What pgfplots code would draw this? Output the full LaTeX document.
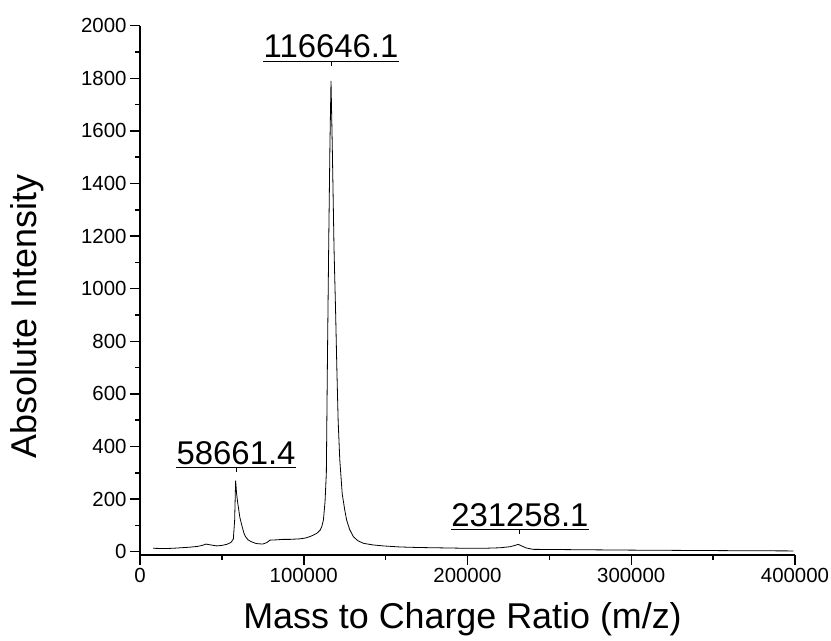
\documentclass[border=0pt]{standalone}
\usepackage{fontspec}
\setmainfont{Liberation Sans}
\usepackage{pgfplots}
\pgfplotsset{compat=1.18}
\begin{document}
\begin{tikzpicture}
\begin{axis}[
  scale only axis,
  width=655bp, height=529.3bp,
  xmin=0, xmax=400000, ymin=-12.5, ymax=2000,
  axis x line*=bottom, axis y line*=left,
  axis line style={line width=1.5bp, -},
  every outer x axis line/.append style={-},
  every outer y axis line/.append style={-},
  xtick={0,100000,200000,300000,400000},
  ytick={0,200,400,600,800,1000,1200,1400,1600,1800,2000},
  minor x tick num=1, minor y tick num=1,
  tick align=outside,
  major tick length=10bp, minor tick length=5bp,
  every tick/.style={line width=1.5bp, black},
  scaled x ticks=false, scaled y ticks=false,
  /pgf/number format/fixed,
  /pgf/number format/1000 sep={},
  /pgf/number format/assume math mode=true,
  tick label style={font=\fontsize{20.5}{24}\selectfont},
  clip=false,
]
\addplot[black, line width=0.8bp] coordinates {
(8000,13) (15000,12) (20000,13) (25000,15) (30000,17) (35000,20) (38000,24)
(40300,29) (43000,26) (46800,22) (50000,24) (53000,28) (55500,35) (57000,48)
(57800,120) (58400,270) (59000,220) (59700,185) (61000,130) (62400,95)
(63500,70) (64500,57) (66000,45) (68000,38) (71000,31) (75000,29) (77500,35)
(79400,44) (83000,45) (87500,47) (92000,47) (97700,49) (101000,52) (104000,58)
(105800,63) (108000,70) (110000,82) (111000,95) (112000,120) (113000,190)
(113800,300) (114500,750) (115300,1200) (116000,1550) (116646,1790)
(117400,1550) (118500,1150) (119500,900) (120200,700) (121000,500)
(122000,350) (123500,220) (125000,160) (126200,120) (128000,85) (130300,57)
(133000,42) (136400,32) (142000,26) (148600,22) (158800,18) (170000,16)
(180000,15) (190000,14) (199500,13) (210000,13) (220000,15) (226000,19)
(229000,24) (231000,28) (233000,22) (236000,14) (240000,9) (260000,8)
(280000,7) (301000,6) (330000,5) (360000,4) (399000,3)
};
\node[anchor=base, inner sep=0pt, font=\fontsize{33}{36}\selectfont] (p1) at (axis cs:116646,1879) {116646.1};
\draw[line width=1bp] ([yshift=-3bp]p1.south west) -- ([yshift=-3bp]p1.south east);
\draw[line width=1bp] ([yshift=-3bp]p1.south) -- ++(0,-8bp);
\node[anchor=base, inner sep=0pt, font=\fontsize{33}{36}\selectfont] (p2) at (axis cs:58661,333) {58661.4};
\draw[line width=1bp] ([yshift=-3bp]p2.south west) -- ([yshift=-3bp]p2.south east);
\draw[line width=1bp] ([yshift=-3bp]p2.south) -- ++(0,-8bp);
\node[anchor=base, inner sep=0pt, font=\fontsize{33}{36}\selectfont] (p3) at (axis cs:232000,97.5) {231258.1};
\draw[line width=1bp] ([yshift=-3bp]p3.south west) -- ([yshift=-3bp]p3.south east);
\draw[line width=1bp] ([yshift=-3bp]p3.south) -- ++(0,-8bp);
\end{axis}
\node[anchor=base, inner sep=0pt, font=\fontsize{36}{40}\selectfont] at (322.5bp,-73bp) {Mass to Charge Ratio (m/z)};
\node[anchor=base, inner sep=0pt, rotate=90, font=\fontsize{36}{40}\selectfont] at (-103bp,238.5bp) {Absolute Intensity};
\pgfresetboundingbox
\path (-140bp,-86bp) rectangle (691bp,555bp);
\end{tikzpicture}
\end{document}
